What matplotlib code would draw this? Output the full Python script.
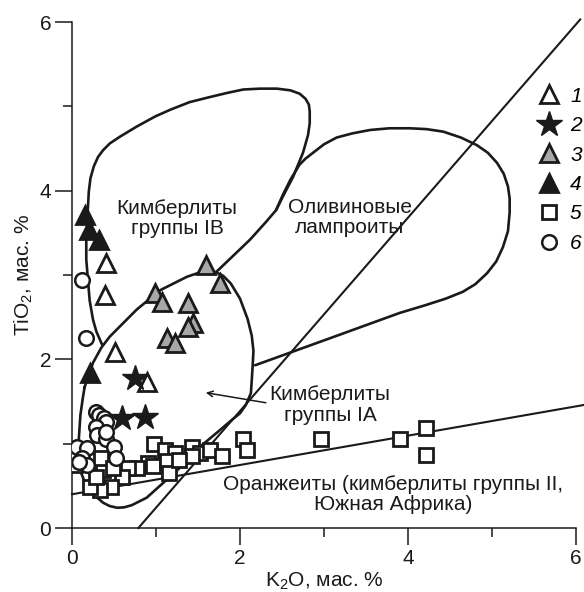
import matplotlib.pyplot as plt
from matplotlib.lines import Line2D

plt.rcParams['font.family'] = ['Liberation Sans', 'DejaVu Sans']
plt.rcParams['mathtext.fontset'] = 'custom'
plt.rcParams['mathtext.rm'] = 'Liberation Sans'

INK = '#1a1a1a'
GRAY = '#a8a8a8'

# sample groups: K2O, TiO2 (wt %)
open_tri_k = [0.41, 0.39, 0.51, 0.89]
open_tri_ti = [3.14, 2.76, 2.09, 1.73]

star_k = [0.75, 0.59, 0.87]
star_ti = [1.78, 1.30, 1.32]

gray_tri_k = [1.59, 1.76, 0.99, 1.07, 1.38, 1.44, 1.38, 1.13, 1.23]
gray_tri_ti = [3.12, 2.91, 2.79, 2.68, 2.67, 2.43, 2.38, 2.25, 2.19]

black_tri_k = [0.15, 0.20, 0.32, 0.21]
black_tri_ti = [3.71, 3.53, 3.42, 1.84]

square_k = [0.98, 1.11, 1.23, 1.43, 1.52, 1.64, 1.78, 1.43, 2.04, 2.08,
            0.90, 0.97, 1.13, 1.15, 0.77, 0.67, 0.59, 0.47, 0.33, 0.21,
            0.37, 0.35, 0.29, 0.04, 0.02, 0.49, 1.27, 2.97, 3.90, 4.22, 4.22]
square_ti = [1.00, 0.93, 0.89, 0.96, 0.89, 0.93, 0.85, 0.85, 1.05, 0.93,
             0.77, 0.73, 0.79, 0.65, 0.71, 0.71, 0.61, 0.49, 0.45, 0.49,
             0.69, 0.83, 0.61, 0.75, 0.89, 0.71, 0.81, 1.06, 1.06, 1.18, 0.87]

circle_k = [0.28, 0.32, 0.38, 0.40, 0.28, 0.30, 0.40, 0.06, 0.18, 0.50,
            0.52, 0.12, 0.18, 0.08, 0.41, 0.12, 0.17]
circle_ti = [1.38, 1.34, 1.30, 1.26, 1.20, 1.10, 1.06, 0.96, 0.95, 0.96,
             0.83, 0.83, 0.75, 0.78, 1.14, 2.94, 2.25]

# field boundaries
ib_k = [0.36, 0.29, 0.25, 0.21, 0.19, 0.17, 0.17, 0.18, 0.19, 0.20, 0.22,
        0.26, 0.31, 0.37, 0.45, 0.57, 0.77, 0.99, 1.17, 1.40, 1.64, 1.85,
        2.04, 2.24, 2.44, 2.60, 2.71, 2.78, 2.82, 2.83, 2.83, 2.81, 2.75,
        2.63, 2.51, 2.43, 2.31, 2.12, 1.90, 1.70]
ib_ti = [2.17, 2.33, 2.47, 2.70, 2.94, 3.18, 3.42, 3.63, 3.81, 3.99, 4.15,
         4.29, 4.40, 4.48, 4.56, 4.64, 4.76, 4.88, 4.96, 5.05, 5.11, 5.16,
         5.20, 5.21, 5.21, 5.19, 5.15, 5.09, 5.02, 4.94, 4.80, 4.66, 4.45,
         4.16, 3.93, 3.77, 3.63, 3.42, 3.21, 3.02]

ia_k = [0.15, 0.25, 0.35, 0.45, 0.60, 0.77, 1.05, 1.37, 1.52, 1.63, 1.72,
        1.80, 1.89, 2.00, 2.09, 2.14, 2.16, 2.15, 2.13, 2.07, 2.00, 1.90,
        1.76, 1.52, 1.29, 1.08, 0.89, 0.71, 0.62, 0.54, 0.45, 0.37, 0.30,
        0.25, 0.19, 0.15, 0.11, 0.08, 0.07, 0.08, 0.10, 0.13, 0.15]
ia_ti = [1.67, 1.96, 2.14, 2.27, 2.42, 2.59, 2.82, 2.98, 3.03, 3.05, 3.03,
         2.99, 2.90, 2.72, 2.48, 2.28, 2.10, 1.91, 1.60, 1.46, 1.36, 1.28,
         1.16, 0.96, 0.72, 0.53, 0.36, 0.27, 0.245, 0.24, 0.26, 0.30, 0.36,
         0.42, 0.49, 0.55, 0.65, 0.75, 0.90, 1.04, 1.34, 1.55, 1.67]

lamp_k = [2.18, 3.07, 3.90, 4.20, 4.45, 4.65, 4.80, 4.94, 5.05, 5.13, 5.19,
          5.21, 5.21, 5.19, 5.14, 5.06, 4.95, 4.82, 4.63, 4.42, 4.22, 4.02,
          3.78, 3.55, 3.34, 3.15, 3.00, 2.87, 2.78, 2.71, 2.60, 2.51, 2.43]
lamp_ti = [1.93, 2.25, 2.55, 2.64, 2.72, 2.80, 2.89, 3.02, 3.16, 3.33, 3.52,
           3.74, 3.91, 4.05, 4.20, 4.33, 4.45, 4.54, 4.63, 4.70, 4.73, 4.74,
           4.74, 4.72, 4.68, 4.63, 4.55, 4.45, 4.38, 4.31, 4.13, 3.95, 3.77]

orange_k = [0.0, 6.1]
orange_ti = [0.40, 1.46]
diag_k = [0.79, 6.05]
diag_ti = [0.0, 6.03]

fig = plt.figure(figsize=(5.84, 5.92), dpi=100)
ax = fig.add_axes([0.1233, 0.1081, 0.8630, 0.8547])

line_kw = dict(color=INK, lw=1.9, solid_joinstyle='round', solid_capstyle='round')
ax.plot(ib_k, ib_ti, **line_kw)
ax.plot(ia_k, ia_ti, **line_kw)
ax.plot(lamp_k, lamp_ti, **line_kw)
ax.plot(orange_k, orange_ti, color=INK, lw=1.5, clip_on=False)
ax.plot(diag_k, diag_ti, color=INK, lw=1.5, clip_on=False)

ax.annotate('', xy=(1.56, 1.61), xytext=(2.34, 1.48),
            arrowprops=dict(arrowstyle='->', color=INK, lw=1.1))

ax.plot(square_k, square_ti, 's', ms=9.5, mfc='white', mec=INK, mew=2, zorder=3)
ax.plot(circle_k, circle_ti, 'o', ms=10.5, mfc='white', mec=INK, mew=1.8, zorder=4)
ax.plot(open_tri_k, open_tri_ti, '^', ms=13, mfc='white', mec=INK, mew=2, zorder=5)
ax.plot(gray_tri_k, gray_tri_ti, '^', ms=13, mfc=GRAY, mec=INK, mew=2, zorder=5)
ax.plot(black_tri_k, black_tri_ti, '^', ms=13, mfc=INK, mec=INK, mew=2, zorder=5)
ax.plot(star_k, star_ti, '*', ms=19, mfc=INK, mec=INK, mew=1, zorder=6)

txt = dict(fontsize=15, color=INK, ha='center', va='center', linespacing=1.1)
ax.text(1.25, 3.67, 'Кимберлиты\nгруппы IB', **txt)
ax.text(3.31, 3.68, 'Оливиновые\nлампроиты', **txt)
ax.text(3.07, 1.46, 'Кимберлиты\nгруппы IA', **txt)
ax.text(3.82, 0.40, 'Оранжеиты (кимберлиты группы II,\nЮжная Африка)', **txt)

handles = [
    Line2D([], [], ls='', marker='^', ms=13, mfc='white', mec=INK, mew=2),
    Line2D([], [], ls='', marker='*', ms=19, mfc=INK, mec=INK, mew=1),
    Line2D([], [], ls='', marker='^', ms=13, mfc=GRAY, mec=INK, mew=2),
    Line2D([], [], ls='', marker='^', ms=13, mfc=INK, mec=INK, mew=2),
    Line2D([], [], ls='', marker='s', ms=9.5, mfc='white', mec=INK, mew=2),
    Line2D([], [], ls='', marker='o', ms=10.5, mfc='white', mec=INK, mew=1.8),
]
ax.legend(handles, ['1', '2', '3', '4', '5', '6'], loc='upper left',
          bbox_to_anchor=(0.922, 0.872), frameon=False, handlelength=1.2,
          handletextpad=0.4, labelspacing=0.5, borderaxespad=0,
          borderpad=0, prop=dict(size=15, style='italic'))

ax.set_xlim(0, 6)
ax.set_ylim(0, 6)
ax.set_xticks([0, 2, 4, 6])
ax.set_yticks([0, 2, 4, 6])
ax.set_xticks([1, 3, 5], minor=True)
ax.set_yticks([1, 3, 5], minor=True)
ax.tick_params(which='major', direction='out', length=12, width=1.1,
               labelsize=15, colors=INK, pad=3)
ax.tick_params(which='minor', direction='out', length=6.5, width=1.1, colors=INK)
for side in ['top', 'right']:
    ax.spines[side].set_visible(False)
for side in ['left', 'bottom']:
    ax.spines[side].set_linewidth(1.1)
    ax.spines[side].set_color(INK)

ax.set_xlabel('K$_\\mathregular{2}$O, мас. %', fontsize=15, color=INK, labelpad=2)
ax.set_ylabel('TiO$_\\mathregular{2}$, мас. %', fontsize=15, color=INK, labelpad=3)

fig.savefig('out.png', dpi=100)
